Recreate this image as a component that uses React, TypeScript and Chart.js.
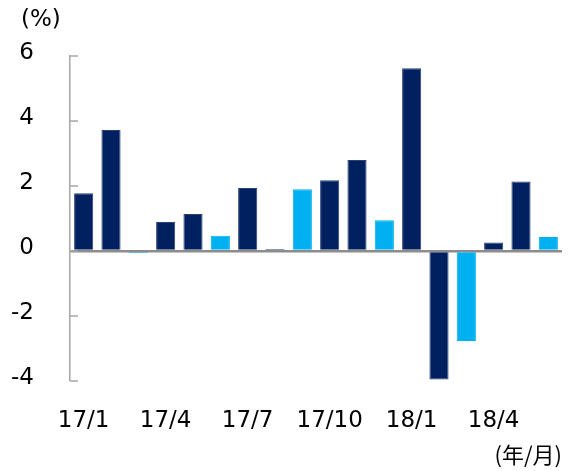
import React, { useEffect, useRef } from "react";
import { Chart, registerables } from "chart.js";

Chart.register(...registerables);

const categories = [
  "17/1", "17/2", "17/3", "17/4", "17/5", "17/6", "17/7", "17/8", "17/9",
  "17/10", "17/11", "17/12", "18/1", "18/2", "18/3", "18/4", "18/5", "18/6",
];
const values = [
  1.78, 3.72, -0.06, 0.89, 1.14, 0.47, 1.94, 0.06, 1.9,
  2.18, 2.8, 0.95, 5.62, -3.95, -2.77, 0.26, 2.14, 0.43,
];
// quarter-end months are highlighted in light blue
const highlight = [
  false, false, true, false, false, true, false, false, true,
  false, false, true, false, false, true, false, false, true,
];
const shownLabels = ["17/1", "17/4", "17/7", "17/10", "18/1", "18/4"];
const yTicks = [-4, -2, 0, 2, 4, 6];
const unitLabel = "(%)";
const xUnitLabel = "(年/月)";

const DARK = "#002060";
const LIGHT = "#00B0F0";
const AXIS = "#a6a6a6";
const FONT = "'DejaVu Sans', Verdana, sans-serif";

export default function App() {
  const ref = useRef<HTMLCanvasElement>(null);

  useEffect(() => {
    const canvas = ref.current!;
    const extras = {
      id: "extras",
      afterDraw(chart: any) {
        const ctx = chart.ctx;
        const y = chart.scales.y;
        const area = chart.chartArea;
        ctx.save();
        ctx.strokeStyle = AXIS;
        ctx.lineWidth = 1.5;
        for (const v of yTicks) {
          const py = y.getPixelForValue(v);
          ctx.beginPath();
          ctx.moveTo(area.left, py);
          ctx.lineTo(area.left + 8, py);
          ctx.stroke();
        }
        ctx.fillStyle = "#000";
        ctx.font = `23px ${FONT}`;
        ctx.textBaseline = "middle";
        ctx.textAlign = "left";
        ctx.fillText(unitLabel, 21, 20);
        ctx.font = `22px 'Noto Sans CJK JP', ${FONT}`;
        ctx.textAlign = "right";
        ctx.fillText(xUnitLabel, 562, 455);
        ctx.restore();
      },
    };

    const chart = new Chart(canvas, {
      type: "bar",
      data: {
        labels: categories,
        datasets: [
          {
            data: values,
            backgroundColor: highlight.map((h) => (h ? LIGHT : DARK)),
            borderColor: highlight.map((h) => (h ? LIGHT : "#2a3f75")),
            borderWidth: 1,
            categoryPercentage: 1,
            barPercentage: 0.7,
          },
        ],
      },
      options: {
        responsive: false,
        animation: false,
        events: [],
        layout: { padding: { left: 0, top: 56, right: 13, bottom: 0 } },
        plugins: { legend: { display: false }, tooltip: { enabled: false } },
        scales: {
          x: {
            grid: { display: false, drawTicks: false },
            border: { display: false },
            ticks: {
              autoSkip: false,
              maxRotation: 0,
              minRotation: 0,
              padding: 26,
              color: "#000",
              font: { family: FONT, size: 23 },
              callback: (_v: any, i: number) =>
                shownLabels.includes(categories[i]) ? categories[i] : "",
            },
            afterFit: (s: any) => {
              s.height = 90;
            },
          },
          y: {
            min: -4,
            max: 6,
            ticks: {
              stepSize: 2,
              padding: 36,
              labelOffset: -3,
              color: "#000",
              font: { family: FONT, size: 23 },
            },
            border: { display: true, color: AXIS, width: 1.5 },
            grid: {
              drawTicks: false,
              color: (c: any) => (c.tick && c.tick.value === 0 ? "#8c8c8c" : "rgba(0,0,0,0)"),
              lineWidth: (c: any) => (c.tick && c.tick.value === 0 ? 2.5 : 0),
            },
            afterFit: (s: any) => {
              s.width = 70;
            },
          },
        },
      },
      plugins: [extras],
    });
    return () => chart.destroy();
  }, []);

  return (
    <div style={{ position: "fixed", left: 0, top: 0, width: 575, height: 471, background: "#fff" }}>
      <canvas ref={ref} width={575} height={471} style={{ width: 575, height: 471 }} />
    </div>
  );
}
